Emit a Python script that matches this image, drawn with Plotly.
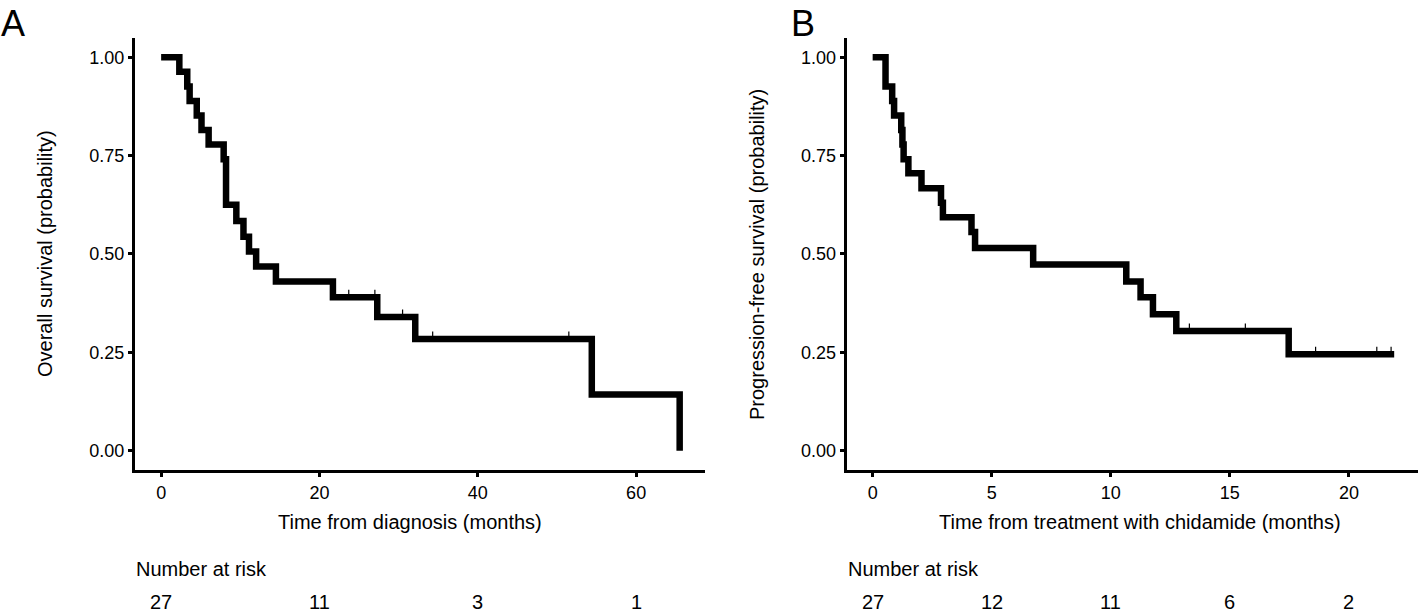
import plotly.graph_objects as go

# ---- Data ----
# Panel A: overall survival
os_time = [0, 2.3, 3.3, 3.6, 4.5, 5.1, 6.0, 7.9, 8.2, 9.5, 10.4, 11.1, 12.0, 14.5, 21.7, 27.3, 32.1, 54.4, 65.5]
os_surv = [1.0, 0.963, 0.926, 0.889, 0.852, 0.815, 0.778, 0.741, 0.625, 0.584, 0.544, 0.506, 0.468, 0.430, 0.390, 0.340, 0.284, 0.143, 0.0]
os_cens_time = [23.7, 27.0, 30.5, 34.3, 51.5]
os_cens_surv = [0.390, 0.390, 0.340, 0.284, 0.284]
os_risk_time = [0, 20, 40, 60]
os_risk_n = ["27", "11", "3", "1"]

# Panel B: progression-free survival
pfs_time = [0, 0.54, 0.82, 0.9, 1.2, 1.25, 1.3, 1.5, 2.05, 2.87, 2.95, 4.15, 4.3, 6.74, 10.65, 11.25, 11.77, 12.75, 17.47, 21.9]
pfs_surv = [1.0, 0.926, 0.889, 0.852, 0.815, 0.778, 0.741, 0.705, 0.667, 0.630, 0.593, 0.556, 0.515, 0.473, 0.430, 0.390, 0.347, 0.304, 0.245, 0.245]
pfs_cens_time = [13.3, 15.65, 18.6, 21.17, 21.77]
pfs_cens_surv = [0.304, 0.304, 0.245, 0.245, 0.245]
pfs_risk_time = [0, 5, 10, 15, 20]
pfs_risk_n = ["27", "12", "11", "6", "2"]

y_ticks = [0, 0.25, 0.5, 0.75, 1.0]

W, H = 1418, 614
FONT = "Liberation Sans, Arial, sans-serif"


def px_x(p):
    return p / W


def px_y(p):
    return 1 - p / H


fig = go.Figure()

# step curves
fig.add_trace(go.Scatter(x=os_time, y=os_surv, mode="lines", line=dict(shape="hv", width=6.5, color="black"),
                         xaxis="x", yaxis="y", showlegend=False))
fig.add_trace(go.Scatter(x=pfs_time, y=pfs_surv, mode="lines", line=dict(shape="hv", width=6.5, color="black"),
                         xaxis="x2", yaxis="y2", showlegend=False))

ydom = [px_y(470.3), px_y(37.6)]
axis_common = dict(showline=True, linewidth=3, linecolor="black", ticks="outside", ticklen=4, tickwidth=3,
                   tickcolor="black", showgrid=False, zeroline=False,
                   tickfont=dict(family=FONT, size=18, color="black"))

fig.update_layout(
    width=W, height=H, margin=dict(l=0, r=0, t=0, b=0),
    paper_bgcolor="white", plot_bgcolor="white",
    xaxis=dict(domain=[px_x(135), px_x(705)], range=[-3.3, 68.7], tickvals=os_risk_time,
               anchor="y", **axis_common),
    yaxis=dict(domain=ydom, range=[-0.05, 1.05], tickvals=y_ticks, tickformat=".2f", anchor="x",
               **axis_common),
    xaxis2=dict(domain=[px_x(846.7), 1.0], range=[-1.09, 22.9], tickvals=pfs_risk_time,
                anchor="y2", **axis_common),
    yaxis2=dict(domain=ydom, range=[-0.05, 1.05], tickvals=y_ticks, tickformat=".2f", anchor="x2",
                **axis_common),
)

# censor marks: short ticks just above the curve
shapes = []
for t, s in zip(os_cens_time, os_cens_surv):
    shapes.append(dict(type="line", xref="x", yref="y", ysizemode="pixel", yanchor=s, x0=t, x1=t,
                       y0=0, y1=7.5, line=dict(color="black", width=1.2)))
for t, s in zip(pfs_cens_time, pfs_cens_surv):
    shapes.append(dict(type="line", xref="x2", yref="y2", ysizemode="pixel", yanchor=s, x0=t, x1=t,
                       y0=0, y1=7.5, line=dict(color="black", width=1.2)))
fig.update_layout(shapes=shapes)

ann = []
tf = dict(family=FONT, size=20, color="black")
# panel letters
ann.append(dict(text="A", x=px_x(-1), y=px_y(1), xref="paper", yref="paper", xanchor="left", yanchor="top",
                showarrow=False, font=dict(family=FONT, size=36, color="black")))
ann.append(dict(text="B", x=px_x(789), y=px_y(1), xref="paper", yref="paper", xanchor="left", yanchor="top",
                showarrow=False, font=dict(family=FONT, size=36, color="black")))
# axis titles
ann.append(dict(text="Time from diagnosis (months)", x=px_x(410), y=px_y(522), xref="paper", yref="paper",
                xanchor="center", yanchor="middle", showarrow=False, font=tf))
ann.append(dict(text="Time from treatment with chidamide (months)", x=px_x(1140), y=px_y(522), xref="paper",
                yref="paper", xanchor="center", yanchor="middle", showarrow=False, font=tf))
ann.append(dict(text="Overall survival (probability)", x=px_x(45), y=px_y(254), xref="paper", yref="paper",
                xanchor="center", yanchor="middle", textangle=-90, showarrow=False, font=tf))
ann.append(dict(text="Progression-free survival (probability)", x=px_x(757), y=px_y(254), xref="paper",
                yref="paper", xanchor="center", yanchor="middle", textangle=-90, showarrow=False, font=tf))
# number at risk
ann.append(dict(text="Number at risk", x=px_x(134), y=px_y(569), xref="paper", yref="paper",
                xanchor="left", yanchor="middle", showarrow=False, font=tf))
ann.append(dict(text="Number at risk", x=px_x(846), y=px_y(569), xref="paper", yref="paper",
                xanchor="left", yanchor="middle", showarrow=False, font=tf))
for t, n in zip(os_risk_time, os_risk_n):
    ann.append(dict(text=n, x=t, y=px_y(602), xref="x", yref="paper", xanchor="center", yanchor="middle",
                    showarrow=False, font=tf))
for t, n in zip(pfs_risk_time, pfs_risk_n):
    ann.append(dict(text=n, x=t, y=px_y(602), xref="x2", yref="paper", xanchor="center", yanchor="middle",
                    showarrow=False, font=tf))
fig.update_layout(annotations=ann)

fig.write_html("out.html", config={"displayModeBar": False})

# remove the browser's default page margin so the figure fills the window exactly
with open("out.html", "r", encoding="utf-8") as f:
    html = f.read()
html = html.replace("<head>", "<head><style>html,body{margin:0;padding:0;overflow:hidden;}</style>", 1)
with open("out.html", "w", encoding="utf-8") as f:
    f.write(html)
